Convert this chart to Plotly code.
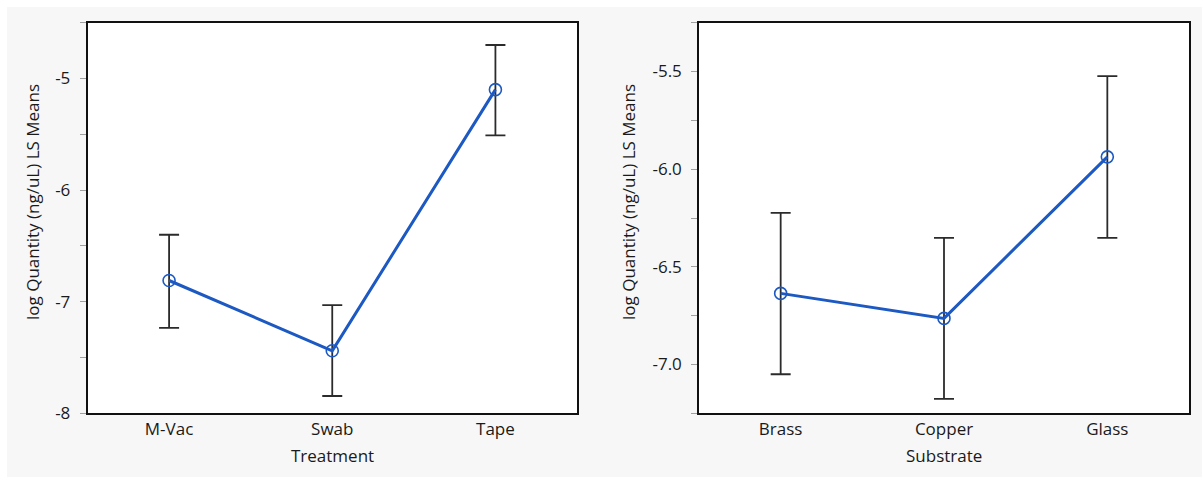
import plotly.graph_objects as go

W, H = 1202, 477

treatments = ["M-Vac", "Swab", "Tape"]
treatment_means = [-6.81, -7.44, -5.10]
treatment_lower = [-7.235, -7.845, -5.51]
treatment_upper = [-6.40, -7.03, -4.70]

substrates = ["Brass", "Copper", "Glass"]
substrate_means = [-6.636, -6.764, -5.937]
substrate_lower = [-7.05, -7.176, -6.352]
substrate_upper = [-6.224, -6.352, -5.524]

left_ticks = [-8, -7.5, -7, -6.5, -6, -5.5, -5, -4.5]
left_ticktext = ["-8", "", "-7", "", "-6", "", "-5", ""]
right_ticks = [-7.25, -7.0, -6.75, -6.5, -6.25, -6.0, -5.75, -5.5, -5.25]
right_ticktext = ["", "-7.0", "", "-6.5", "", "-6.0", "", "-5.5", ""]

FONT = "Open Sans"
TXT = "#1a1a1a"
BLUE = "#1d59c2"
BAR = "#2b2b2b"

fig = go.Figure()


def add_panel(cats, means, lo, hi, xa, ya):
    plus = [h - m for h, m in zip(hi, means)]
    minus = [m - l for m, l in zip(means, lo)]
    fig.add_trace(go.Scatter(
        x=cats, y=means, mode="markers", xaxis=xa, yaxis=ya,
        marker=dict(size=1, color="rgba(0,0,0,0)"),
        error_y=dict(type="data", symmetric=False, array=plus, arrayminus=minus,
                     color=BAR, thickness=1.8, width=10),
        showlegend=False, hoverinfo="skip"))
    fig.add_trace(go.Scatter(
        x=cats, y=means, mode="lines+markers", xaxis=xa, yaxis=ya,
        line=dict(color=BLUE, width=3),
        marker=dict(symbol="circle-open", size=12, color=BLUE, line=dict(width=1.6)),
        showlegend=False))


add_panel(treatments, treatment_means, treatment_lower, treatment_upper, "x", "y")
add_panel(substrates, substrate_means, substrate_lower, substrate_upper, "x2", "y2")

ydom = [1 - 413.3 / H, 1 - 22.7 / H]

xcommon = dict(type="category", range=[-0.5, 2.5], showline=True, mirror=True,
               linecolor="#111", linewidth=1.5, ticks="", showgrid=False, zeroline=False,
               tickfont=dict(family=FONT, size=17, color=TXT), automargin=False,
               fixedrange=True)
ycommon = dict(showline=True, mirror=True, linecolor="#111", linewidth=1.5,
               ticks="outside", ticklen=6, tickwidth=1, tickcolor="#a0a0a0",
               showgrid=False, zeroline=False, ticklabelstandoff=6,
               tickfont=dict(family=FONT, size=17, color=TXT), automargin=False,
               tickmode="array", domain=ydom)

title_y = 1 - 202 / H

fig.update_layout(
    width=W, height=H,
    margin=dict(l=0, r=0, t=0, b=0),
    paper_bgcolor="#f7f7f7",
    plot_bgcolor="white",
    template="none",
    xaxis=dict(domain=[87.5 / W, 577 / W], anchor="y", **xcommon),
    xaxis2=dict(domain=[699 / W, 1189 / W], anchor="y2", **xcommon),
    yaxis=dict(anchor="x", range=[-8, -4.5], tickvals=left_ticks,
               ticktext=left_ticktext, **ycommon),
    yaxis2=dict(anchor="x2", range=[-7.25, -5.25], tickvals=right_ticks,
                ticktext=right_ticktext, **ycommon),
    shapes=[
        dict(type="rect", xref="paper", yref="paper", layer="below",
             x0=0, x1=1, y0=1 - 7 / H, y1=1,
             fillcolor="white", line=dict(width=0)),
        dict(type="rect", xref="paper", yref="paper", layer="below",
             x0=0, x1=7 / W, y0=0, y1=1,
             fillcolor="white", line=dict(width=0)),
    ],
    annotations=[
        dict(text="Treatment", xref="paper", yref="paper", x=332 / W, y=1 - 455 / H,
             showarrow=False, xanchor="center", yanchor="middle",
             font=dict(family=FONT, size=17, color=TXT)),
        dict(text="Substrate", xref="paper", yref="paper", x=944 / W, y=1 - 455 / H,
             showarrow=False, xanchor="center", yanchor="middle",
             font=dict(family=FONT, size=17, color=TXT)),
        dict(text="log Quantity (ng/uL) LS Means", xref="paper", yref="paper",
             x=32 / W, y=title_y, textangle=-90, showarrow=False,
             xanchor="center", yanchor="middle",
             font=dict(family=FONT, size=17, color=TXT)),
        dict(text="log Quantity (ng/uL) LS Means", xref="paper", yref="paper",
             x=628 / W, y=title_y, textangle=-90, showarrow=False,
             xanchor="center", yanchor="middle",
             font=dict(family=FONT, size=17, color=TXT)),
    ],
)

fig.write_html("out.html")
